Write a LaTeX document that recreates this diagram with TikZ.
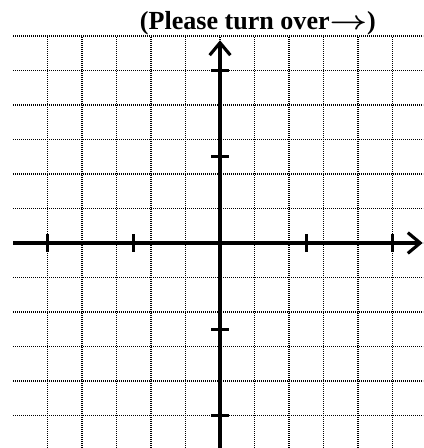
\documentclass[tikz,border=0pt]{standalone}
\usepackage{fontspec}
\setmainfont{Liberation Serif}
\usepackage{tikz}
\usetikzlibrary{arrows.meta, positioning}

\begin{document}
\begin{tikzpicture}[
  x=0.5cm, y=0.5cm,
  gridline/.style={dash pattern=on 0.825pt off 0.825pt, line width=0.9pt, black},
  axis/.style={line width=3.2pt, -{Straight Barb[length=3.6mm, width=6mm, line width=2.6pt]}},
  tick/.style={line width=2.6pt},
  note/.style={font=\fontsize{21.5}{24}\selectfont\bfseries, inner sep=0pt, anchor=base}
]
\useasboundingbox (-12.754,-11.884) rectangle (11.768,14.087);
\clip (-12.754,-11.884) rectangle (11.768,14.087);

% grid
\draw[gridline] (-12,-12) grid (12,12);

% axes
\coordinate (xstart) at (-12,0);
\coordinate (xend) at (11.75,0);
\coordinate (ystart) at (0,-12);
\coordinate (yend) at (0,11.75);
\draw[axis] (xstart) -- (xend);
\draw[axis] (ystart) -- (yend);

% ticks every 5 units
\foreach \t in {-10,-5,5,10} {
  \draw[tick] (\t,-0.5) -- (\t,0.5);
  \draw[tick] (-0.5,\t) -- (0.5,\t);
}

\node[note] (turn) at (2.2,12.35) {(Please turn over\scalebox{1.3}[1.05]{\boldmath$\rightarrow$})};

\end{tikzpicture}
\end{document}
